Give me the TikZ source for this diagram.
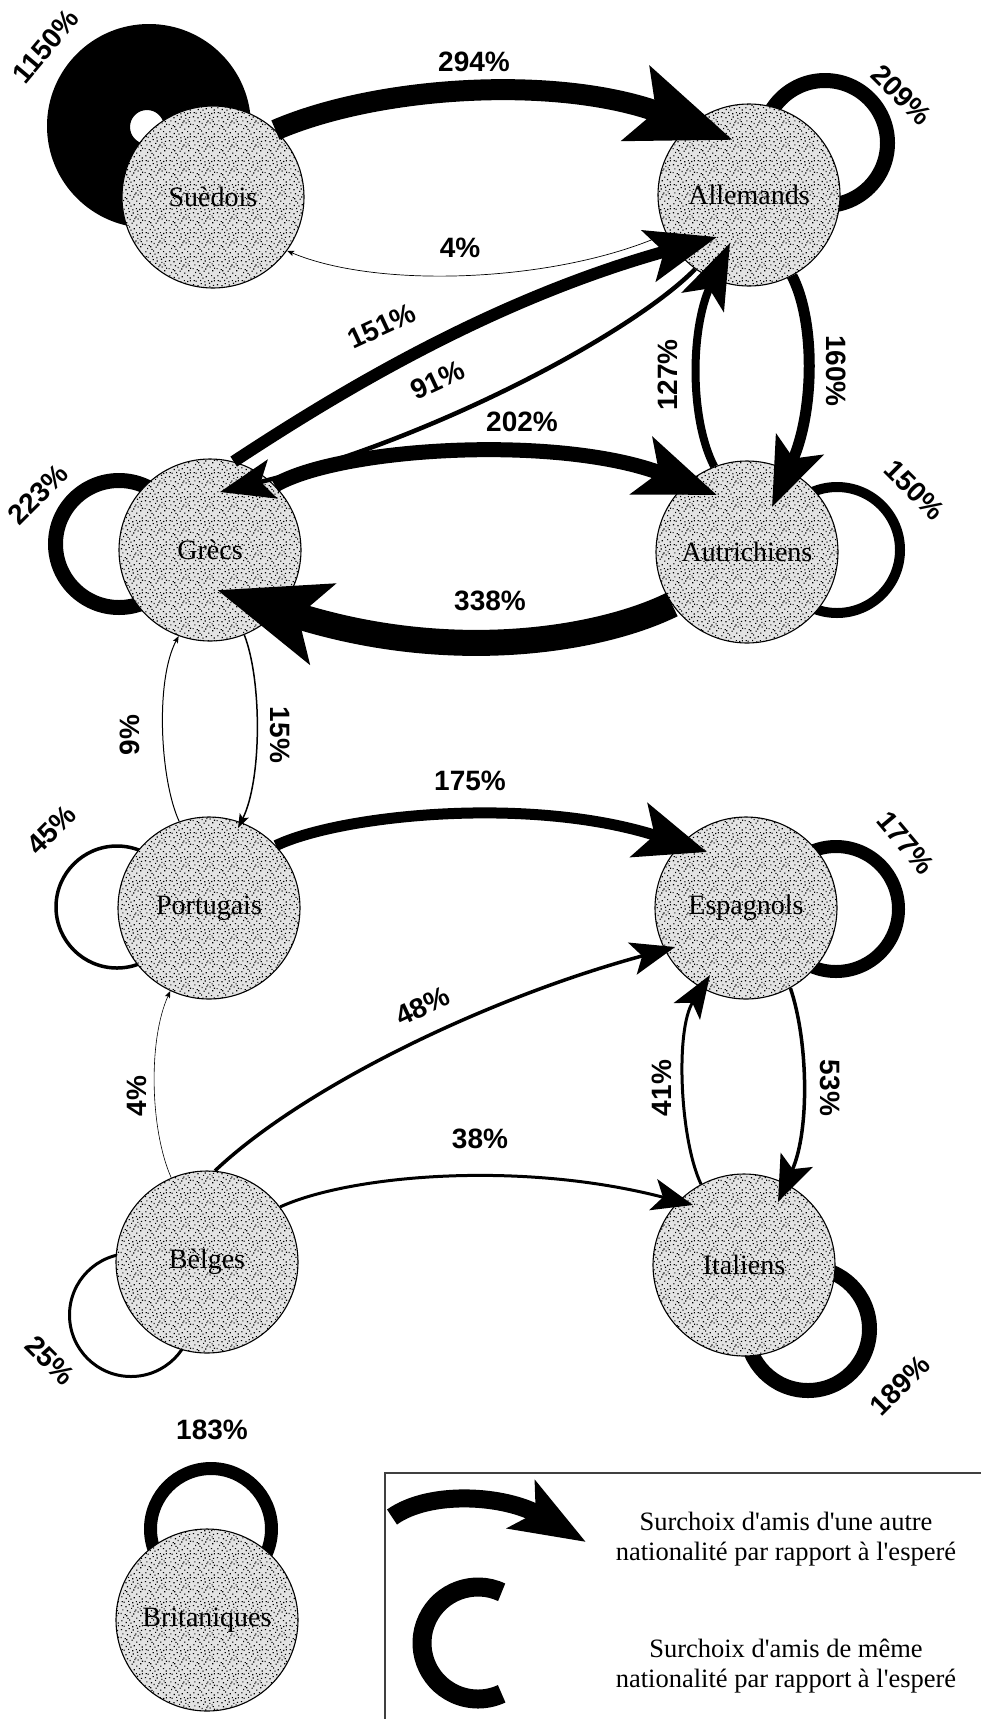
\documentclass[tikz,border=0pt]{standalone}
\usepackage{fontspec}
\setmainfont{Liberation Serif}
\setsansfont{Liberation Sans}
\usetikzlibrary{arrows.meta,calc,patterns}
% grainy stipple used inside the nationality discs
\pgfdeclarepatternformonly{stipple}{\pgfpointorigin}{\pgfpoint{24pt}{24pt}}{\pgfpoint{24pt}{24pt}}{%
  \foreach \px/\py in {1.3/2.7,5.8/0.9,9.4/3.6,14.1/1.8,19.7/2.9,22.5/0.4,
    3.2/6.1,7.7/5.2,12.0/7.4,16.8/5.5,20.9/7.9,0.6/10.2,4.9/9.1,9.9/11.3,
    13.6/9.7,18.2/11.8,22.8/10.5,2.4/14.0,7.1/13.2,11.5/15.6,15.9/13.9,
    20.3/15.1,0.9/18.4,5.6/17.3,9.0/19.5,13.2/18.1,17.6/19.9,21.7/17.7,
    3.7/21.9,8.3/22.8,12.7/21.4,16.4/22.6,19.8/21.7,22.6/22.4,6.4/7.9,
    10.8/0.3,17.9/16.6,1.8/22.6,14.8/12.4,21.5/13.3}{%
    \pgfpathrectangle{\pgfpoint{\px pt}{\py pt}}{\pgfpoint{1.2pt}{1.2pt}}}%
  \pgfusepath{fill}}
\begin{document}
\begin{tikzpicture}[x=1pt,y=1pt,
  nat/.style={circle,draw,line width=1.1pt,fill=black!11,postaction={pattern=stipple},
    minimum size=182pt,inner sep=0pt,font=\fontsize{28}{30}\selectfont},
  pct/.style={font=\sffamily\bfseries\fontsize{28}{30}\selectfont,inner sep=0pt},
  flow/.style n args={4}{line width=#1,-{Stealth[length=#2,width=#3,inset=#4]}},
  thinflow/.style={flow={#1}{7pt}{5.5pt}{1.5pt}},
  selfloop/.style={draw,line width=#1},
  legtext/.style={font=\fontsize{26.5}{30}\selectfont,align=center,inner sep=0pt},
]
\useasboundingbox (0,0) rectangle (980,-1719);
\fill[white] (0,0) rectangle (980,-1719);

% ---- same-nationality loops (drawn behind the discs) ----
\fill[black,even odd rule] (149,-126) circle[radius=102] (147,-127) circle[radius=17];
\draw[selfloop=15pt] (825,-143) circle[radius=62.5];
\draw[selfloop=15pt] (119,-544) circle[radius=63.5];
\draw[selfloop=10pt] (837,-550) circle[radius=63];
\draw[selfloop=3.5pt] (117,-907) circle[radius=61];
\draw[selfloop=13pt] (836,-909) circle[radius=62.5];
\draw[selfloop=3pt] (131,-1315) circle[radius=61.5];
\draw[selfloop=15pt] (808,-1329) circle[radius=61.5];
\draw[selfloop=13pt] (211,-1529) circle[radius=60.5];

% ---- nationalities ----
\node[nat] (sue) at (213,-197) {Suèdois};
\node[nat] (all) at (749,-195) {Allemands};
\node[nat] (gre) at (210,-550) {Grècs};
\node[nat] (aut) at (747,-552) {Autrichiens};
\node[nat] (por) at (209,-908) {Portugais};
\node[nat] (esp) at (746,-908) {Espagnols};
\node[nat] (bel) at (207,-1262) {Bèlges};
\node[nat] (ita) at (744,-1265) {Italiens};
\node[nat] (bri) at (207,-1620) {Britaniques};

% ---- friendship choices between nationalities ----
\draw[flow={21pt}{102pt}{77pt}{20pt}] (sue.47) .. controls (380,-85) and (560,-75) .. ($(all)+(-16,55)$);
\draw[thinflow=0.7pt] (all.205) .. controls (560,-282) and (380,-290) .. (sue.-36);
\draw[flow={12pt}{70pt}{52pt}{15pt}] (gre.75) .. controls (335,-395) and (490,-300) .. ($(all)+(-32,-42)$);
\draw[flow={4.5pt}{54pt}{40pt}{12pt}] (all.234) .. controls (630,-335) and (430,-440) .. ($(gre)+(10,58)$);
\draw[flow={15pt}{80pt}{60pt}{18pt}] (gre.45) .. controls (340,-447) and (560,-434) .. ($(aut)+(-30,57)$);
\draw[flow={26pt}{109pt}{82pt}{24pt}] (aut.215) .. controls (600,-640) and (450,-665) .. ($(gre)+(7,-40)$);
\draw[flow={11pt}{68pt}{51pt}{15pt}] (all.-62) .. controls (815,-320) and (815,-410) .. ($(aut)+(25,45)$);
\draw[flow={8pt}{65pt}{46pt}{15pt}] (aut.111) .. controls (690,-420) and (690,-330) .. ($(all)+(-19,-48)$);
\draw[thinflow=1pt] (por.109) .. controls (160,-780) and (155,-680) .. (gre.250);
\draw[flow={1.5pt}{14pt}{10pt}{3pt}] (gre.-68) .. controls (262,-680) and (262,-780) .. ($(por)+(29,80)$);
\draw[flow={11pt}{71pt}{56pt}{16pt}] (por.43) .. controls (340,-815) and (530,-795) .. ($(esp)+(-39,56)$);
\draw[flow={3.5pt}{44pt}{33pt}{10pt}] (bel.85) .. controls (300,-1090) and (480,-1000) .. ($(esp)+(-71,-39)$);
\draw[flow={3pt}{41pt}{32pt}{10pt}] (bel.37) .. controls (350,-1175) and (520,-1160) .. ($(ita)+(-51,60)$);
\draw[thinflow=0.6pt] (bel.113) .. controls (150,-1130) and (148,-1040) .. (por.245);
\draw[flow={3pt}{43pt}{31pt}{10pt}] (ita.118) .. controls (680,-1140) and (675,-1030) .. ($(esp)+(-36,-67)$);
\draw[flow={3.5pt}{46pt}{35pt}{10pt}] (esp.-61) .. controls (808,-1040) and (810,-1130) .. ($(ita)+(34,63)$);

% ---- percentages ----
\node[pct,rotate=50] (p1150) at (46,-46) {1150\%};
\node[pct] (p294) at (474,-62) {294\%};
\node[pct,rotate=-45] (p209) at (902,-95) {209\%};
\node[pct] (p4a) at (460,-248) {4\%};
\node[pct,rotate=25] (p151) at (382,-326) {151\%};
\node[pct,rotate=25] (p91) at (438,-380) {91\%};
\node[pct] (p202) at (522,-422) {202\%};
\node[pct,rotate=90] (p127) at (668,-375) {127\%};
\node[pct,rotate=-90] (p160) at (836,-371) {160\%};
\node[pct,rotate=45] (p223) at (38,-494) {223\%};
\node[pct,rotate=-45] (p150) at (915,-490) {150\%};
\node[pct] (p338) at (490,-601) {338\%};
\node[pct,rotate=90] (p9) at (130,-735) {9\%};
\node[pct,rotate=-90] (p15) at (280,-735) {15\%};
\node[pct] (p175) at (470,-781) {175\%};
\node[pct,rotate=45] (p45) at (52,-830) {45\%};
\node[pct,rotate=-50] (p177) at (906,-843) {177\%};
\node[pct,rotate=25] (p48) at (423,-1006) {48\%};
\node[pct,rotate=90] (p4b) at (137,-1096) {4\%};
\node[pct,rotate=90] (p41) at (662,-1088) {41\%};
\node[pct,rotate=-90] (p53) at (830,-1088) {53\%};
\node[pct] (p38) at (480,-1139) {38\%};
\node[pct,rotate=-45] (p25) at (50,-1360) {25\%};
\node[pct,rotate=45] (p189) at (900,-1385) {189\%};
\node[pct] (p183) at (212,-1430) {183\%};

% ---- legend ----
\draw[line width=1.3pt,black!75] (385,-1730) |- (990,-1473);
\coordinate (lgA) at (392,-1517);
\coordinate (lgB) at (586,-1542);
\draw[flow={18pt}{74pt}{54pt}{16pt}] (lgA) .. controls (430,-1490) and (505,-1495) .. (lgB);
\draw[line width=19pt] (478,-1643) ++(65:56) arc[start angle=65,end angle=295,radius=56];
\node[legtext] (lg1) at (786,-1539) {Surchoix d\textquotesingle amis d\textquotesingle une autre\\nationalité par rapport à l\textquotesingle esperé};
\node[legtext] (lg2) at (786,-1666) {Surchoix d\textquotesingle amis de même\\nationalité par rapport à l\textquotesingle esperé};
\end{tikzpicture}
\end{document}
